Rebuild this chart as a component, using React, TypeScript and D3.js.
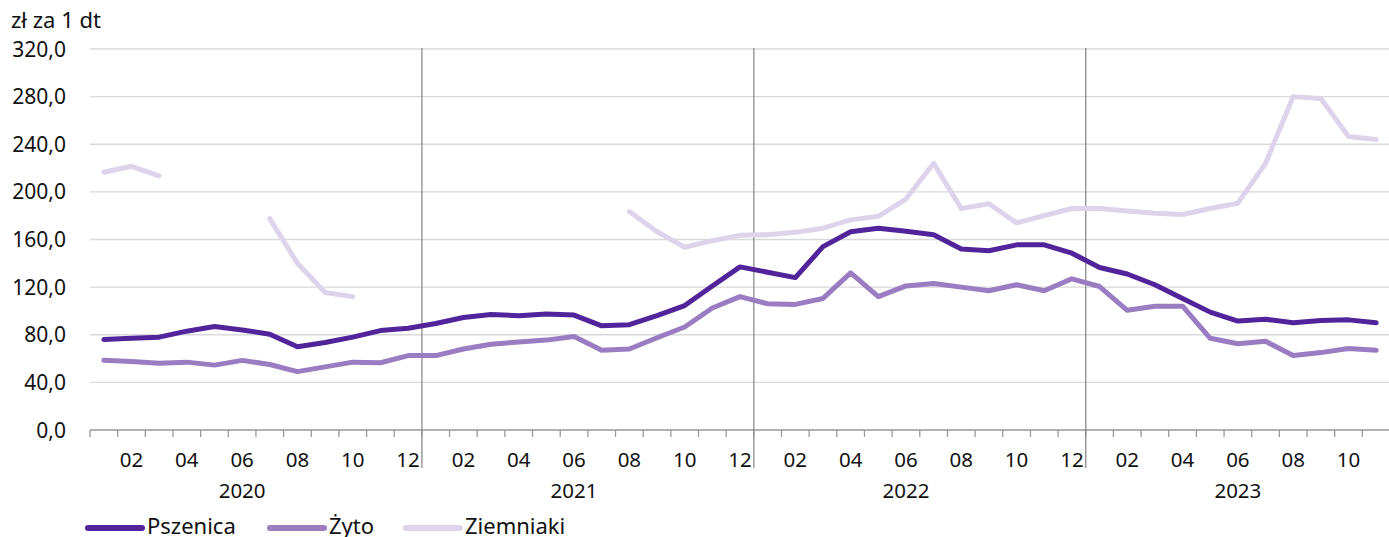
import React, { useEffect, useRef } from "react";
import * as d3 from "d3";

// monthly prices, Jan 2020 – Nov 2023
const years = ["2020", "2021", "2022", "2023"];
const monthsInYear = [12, 12, 12, 11];
const yTicks = [0, 40, 80, 120, 160, 200, 240, 280, 320];

const pszenica = [
  76, 77, 78, 83, 87, 84, 80.5, 70, 73.5, 78, 83.5, 85.5,
  89.5, 94.5, 97, 96, 97.5, 96.5, 87.5, 88.5, 96, 104.5, 121, 137,
  132.5, 128, 154, 166.5, 169.5, 167, 164, 152, 150.5, 155.5, 155.5, 148.5,
  136.5, 131, 122, 110.5, 99, 91.5, 93, 90, 92, 92.5, 90,
];
const zyto = [
  58.5, 57.5, 56, 57, 54.5, 58.5, 55, 49, 53, 57, 56.5, 62.5,
  62.5, 68, 72, 74, 75.5, 78.5, 67, 68, 77.5, 86.5, 102.5, 112,
  106, 105.5, 110.5, 132, 112, 121, 123, 120, 117, 122, 117, 127,
  120.5, 100.5, 104, 104, 77, 72.5, 74.5, 62.5, 65, 68.5, 67,
];
const ziemniaki: (number | null)[] = [
  216.5, 221.5, 213.5, null, null, null, 177.5, 140, 115.5, 112, null, null,
  null, null, null, null, null, null, null, 183.5, 166.5, 153.5, 159, 163.5,
  164, 166, 169.5, 176.5, 179.5, 194, 224, 186, 190, 174, 180, 186,
  186, 184, 182, 181, 186, 190.5, 224, 280, 278.5, 246.5, 244,
];

const series = [
  { name: "Pszenica", values: pszenica as (number | null)[], color: "#52249b" },
  { name: "Żyto", values: zyto as (number | null)[], color: "#9a7cc3" },
  { name: "Ziemniaki", values: ziemniaki, color: "#ddd3eb" },
];

const W = 1389;
const H = 537;
const FONT = "'Noto Sans', sans-serif";

export default function App() {
  const svgRef = useRef<SVGSVGElement | null>(null);

  useEffect(() => {
    if (!svgRef.current) return;
    const svg = d3.select(svgRef.current);
    svg.selectAll("*").remove();

    const cats: { year: string; month: number }[] = [];
    years.forEach((y, i) => {
      for (let m = 1; m <= monthsInYear[i]; m++) cats.push({ year: y, month: m });
    });
    const keys = cats.map((c) => `${c.year}-${c.month}`);

    const left = 90;
    const right = 1390;
    const top = 49;
    const bottom = 430;

    const x = d3.scaleBand<string>().domain(keys).range([left, right]);
    const y = d3.scaleLinear().domain([0, 320]).range([bottom, top]);
    const bw = x.bandwidth();

    // gridlines
    svg
      .append("g")
      .selectAll("line")
      .data(yTicks.filter((t) => t > 0))
      .join("line")
      .attr("x1", left)
      .attr("x2", W)
      .attr("y1", (d) => y(d))
      .attr("y2", (d) => y(d))
      .attr("stroke", "#d9d9d9")
      .attr("stroke-width", 1.3);

    // y labels
    svg
      .append("g")
      .selectAll("text")
      .data(yTicks)
      .join("text")
      .attr("x", 66)
      .attr("y", (d) => y(d) + 7.5)
      .attr("text-anchor", "end")
      .attr("font-family", FONT)
      .attr("font-size", 21)
      .attr("fill", "#111")
      .text((d) => d3.format(".1f")(d).replace(".", ","));

    svg
      .append("text")
      .attr("x", 11)
      .attr("y", 28)
      .attr("font-family", FONT)
      .attr("font-size", 22)
      .attr("fill", "#111")
      .text("zł za 1 dt");

    // x axis
    svg
      .append("line")
      .attr("x1", left)
      .attr("x2", W)
      .attr("y1", bottom)
      .attr("y2", bottom)
      .attr("stroke", "#999")
      .attr("stroke-width", 1.3);

    const bounds = keys.map((k) => x(k)!);
    svg
      .append("g")
      .selectAll("line")
      .data(bounds)
      .join("line")
      .attr("x1", (d) => d)
      .attr("x2", (d) => d)
      .attr("y1", bottom)
      .attr("y2", bottom + 7)
      .attr("stroke", "#999")
      .attr("stroke-width", 1.3);

    // year separators
    const yearStarts = cats
      .map((c, i) => (c.month === 1 && i > 0 ? x(keys[i])! : null))
      .filter((v) => v !== null) as number[];
    svg
      .append("g")
      .selectAll("line")
      .data(yearStarts)
      .join("line")
      .attr("x1", (d) => d)
      .attr("x2", (d) => d)
      .attr("y1", top - 1)
      .attr("y2", 468)
      .attr("stroke", "#8c8c8c")
      .attr("stroke-width", 1.3);

    // month labels
    svg
      .append("g")
      .selectAll("text")
      .data(cats.filter((c) => c.month % 2 === 0))
      .join("text")
      .attr("x", (c) => x(`${c.year}-${c.month}`)! + bw / 2)
      .attr("y", 467)
      .attr("text-anchor", "middle")
      .attr("font-family", FONT)
      .attr("font-size", 20.5)
      .attr("fill", "#111")
      .text((c) => String(c.month).padStart(2, "0"));

    // year labels
    svg
      .append("g")
      .selectAll("text")
      .data(years)
      .join("text")
      .attr("x", (yr) => x(`${yr}-6`)! + bw / 2)
      .attr("y", 498)
      .attr("text-anchor", "middle")
      .attr("font-family", FONT)
      .attr("font-size", 20.5)
      .attr("fill", "#111")
      .text((yr) => yr);

    // lines
    const line = d3
      .line<number | null>()
      .defined((d) => d !== null)
      .x((_, i) => x(keys[i])! + bw / 2)
      .y((d) => y(d as number));

    [...series].reverse().forEach((s) => {
      svg
        .append("path")
        .datum(s.values)
        .attr("fill", "none")
        .attr("stroke", s.color)
        .attr("stroke-width", 5)
        .attr("stroke-linejoin", "round")
        .attr("stroke-linecap", "round")
        .attr("d", line);
    });

    // legend
    const legendX = [88, 270, 406];
    const lg = svg
      .append("g")
      .selectAll("g")
      .data(series)
      .join("g")
      .attr("transform", (_, i) => `translate(${legendX[i]},528)`);
    lg.append("line")
      .attr("x1", 0)
      .attr("x2", 54)
      .attr("stroke", (d) => d.color)
      .attr("stroke-width", 6)
      .attr("stroke-linecap", "round");
    lg.append("text")
      .attr("x", 59)
      .attr("y", 6)
      .attr("font-family", FONT)
      .attr("font-size", 22)
      .attr("fill", "#111")
      .text((d) => d.name);
  }, []);

  return (
    <svg
      ref={svgRef}
      width={W}
      height={H}
      style={{ position: "absolute", left: 0, top: 0, background: "#fff" }}
    />
  );
}
